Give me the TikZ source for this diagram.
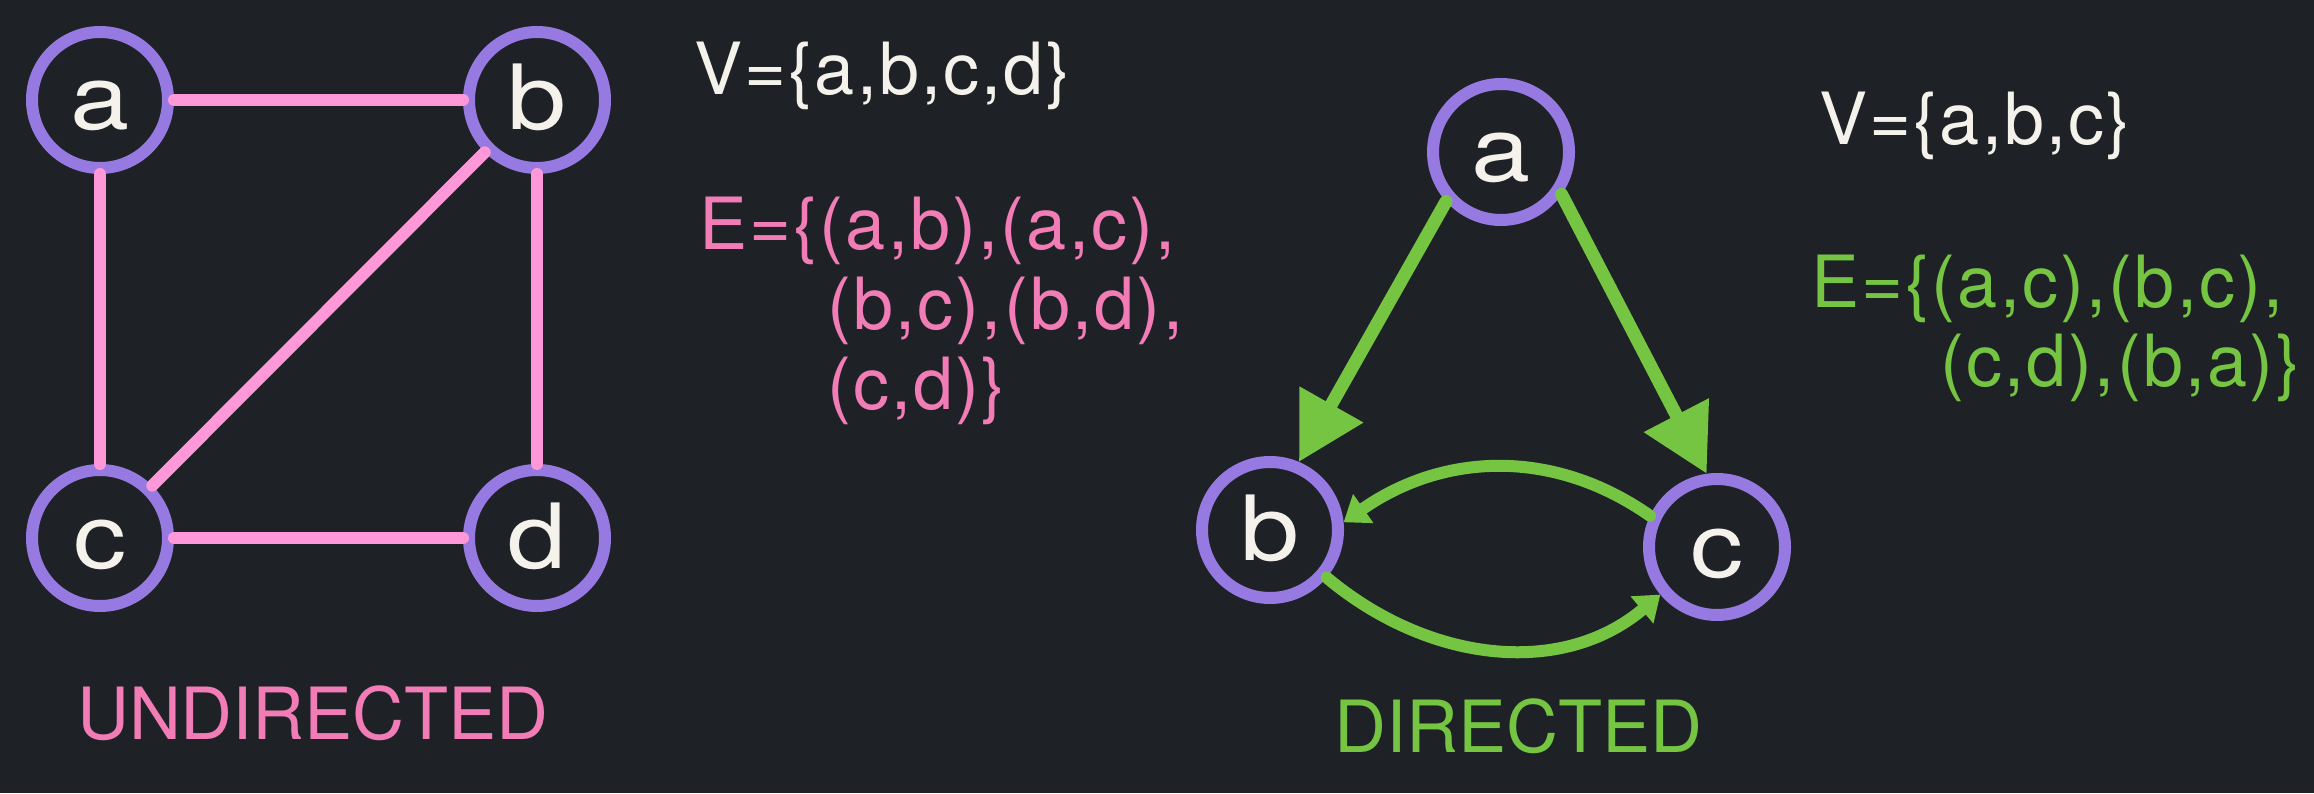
\documentclass[tikz,border=0pt]{standalone}
\usepackage{fontspec}
\usepackage{graphicx}
\setmainfont{TeX Gyre Heros}
\newfontfamily\slidefont{TeX Gyre Heros}[LetterSpace=3]
\usetikzlibrary{arrows.meta}

\definecolor{bgdark}{RGB}{30,34,39}
\definecolor{vertexpurple}{RGB}{150,122,226}
\definecolor{edgepink}{RGB}{255,152,216}
\definecolor{textpink}{RGB}{241,124,182}
\definecolor{arcgreen}{RGB}{117,197,66}
\definecolor{chalk}{RGB}{244,242,234}

\newcommand{\widelbl}[1]{\scalebox{1.18}[1]{#1}}

\begin{document}
\begin{tikzpicture}[
                x=1pt,y=1pt,
                vertex/.style={circle,draw=vertexpurple,line width=12pt,minimum size=136pt,inner sep=0pt,text=chalk,font=\fontsize{90}{90}\selectfont,text height=60pt,text depth=0pt},
                setlabel/.style={anchor=base west,inner sep=0pt,font=\slidefont\fontsize{72}{80}\selectfont},
                caption/.style={anchor=base,inner sep=0pt,font=\fontsize{72}{80}\selectfont},
                undirected/.style={edgepink,line width=12pt,line cap=round},
                directed/.style={arcgreen,line width=13pt,line cap=round,-{Triangle[length=66pt,width=70pt]}},
                directedsmall/.style={arcgreen,line width=12pt,line cap=round,-{Triangle[length=24pt,width=34pt]}}
            ]
                \fill[bgdark] (0,0) rectangle (2314,793);
                \useasboundingbox (0,0) rectangle (2314,793);
                \node[vertex] (ua) at (100,693) {\widelbl{a}};
                \node[vertex] (ub) at (537,693) {\widelbl{b}};
                \node[vertex] (uc) at (100,255) {\widelbl{c}};
                \node[vertex] (ud) at (537,255) {\widelbl{d}};
                \draw[undirected] (ua) -- (ub);
                \draw[undirected] (ua) -- (uc);
                \draw[undirected] (ub) -- (ud);
                \draw[undirected] (uc) -- (ud);
                \draw[undirected] (ub) -- (uc);
                \node[setlabel,text=chalk] (uvset) at (694,698) {V=\{a,b,c,d\}};
                \node[setlabel,text=textpink] (ueset) at (699,543) {E=\{(a,b),(a,c),};
                \node[setlabel,text=textpink] (uesetb) at (827,463) {(b,c),(b,d),};
                \node[setlabel,text=textpink] (uesetc) at (827,383) {(c,d)\}};
                \node[caption,text=textpink] (ucap) at (313,54) {UNDIRECTED};
                \node[vertex] (da) at (1501,641) {\widelbl{a}};
                \node[vertex] (db) at (1270,263) {\widelbl{b}};
                \node[vertex] (dc) at (1717,246) {\widelbl{c}};
                \draw[directed] (da.222) -- (db.67);
                \draw[directed] (da.325) -- (dc.98);
                \draw[directedsmall] (dc.155) to[out=145,in=35] (db.6);
                \draw[directedsmall] (db.320) to[out=-40,in=220] (dc.220);
                \node[setlabel,text=chalk] (dvset) at (1819,648) {V=\{a,b,c\}};
                \node[setlabel,text=arcgreen] (deset) at (1811,485) {E=\{(a,c),(b,c),};
                \node[setlabel,text=arcgreen] (desetb) at (1940,406) {(c,d),(b,a)\}};
                \node[caption,text=arcgreen] (dcap) at (1518,41) {DIRECTED};
            \end{tikzpicture}
\end{document}
